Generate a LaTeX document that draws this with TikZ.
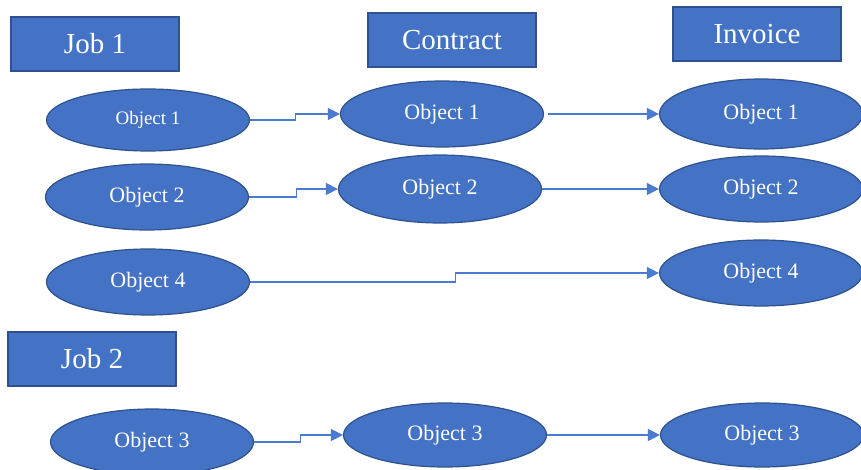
\documentclass[tikz,border=0pt]{standalone}
\usepackage{fontspec}
\setmainfont{Liberation Serif}
\usetikzlibrary{shapes.geometric,arrows.meta}
\definecolor{fillblue}{HTML}{4472C4}
\definecolor{edgeblue}{HTML}{2F528F}
\definecolor{lineblue}{HTML}{4A7BD0}
\tikzset{
  hdr/.style={rectangle,fill=fillblue,draw=edgeblue,line width=1.2pt,minimum width=168pt,minimum height=54pt,inner sep=0pt,text=white,font=\fontsize{29}{32}\selectfont},
  obj/.style={ellipse,fill=fillblue,draw=edgeblue,line width=1.2pt,minimum width=203pt,minimum height=66pt,inner sep=0pt,text=white,font=\fontsize{22}{25}\selectfont},
  conn/.style={draw=lineblue,line width=1.1pt,-{Triangle[length=12pt,width=12pt]}}
}
\begin{document}
\begin{tikzpicture}[x=1pt,y=-1pt]
\useasboundingbox[fill=white] (0,0) rectangle (861,470);
% headers
\node[hdr] (job1) at (95,44) {Job 1};
\node[hdr] (contract) at (452,40) {Contract};
\node[hdr] (invoice) at (757,34) {Invoice};
\node[hdr] (job2) at (92,359) {Job 2};
% row 1
\node[obj,minimum height=62pt] (j1o1) at (148,120) {\fontsize{19}{22}\selectfont Object 1};
\node[obj] (c1) at (442,114) {Object 1};
\node[obj,minimum height=70pt] (i1) at (761,114) {Object 1};
% row 2
\node[obj] (j1o2) at (147,197) {Object 2};
\node[obj,minimum height=68pt] (c2) at (440,189) {Object 2};
\node[obj] (i2) at (761,189) {Object 2};
% row 3
\node[obj] (j1o4) at (148,282) {Object 4};
\node[obj] (i4) at (761,273) {Object 4};
% row 4
\node[obj] (j2o3) at (152,442) {Object 3};
\node[obj,minimum height=64pt] (c3) at (445,435) {Object 3};
\node[obj,minimum height=64pt] (i3) at (762,435) {Object 3};
% connectors
\draw[conn] (j1o1.east) -- ++(45,0) |- (c1.west);
\draw[conn,shorten <=4pt] (c1.east) -- (i1.west);
\draw[conn] (j1o2.east) -- ++(47,0) |- (c2.west);
\draw[conn] (c2.east) -- (i2.west);
\draw[conn] (j1o4.east) -- ++(205,0) |- (i4.west);
\draw[conn] (j2o3.east) -- ++(46,0) |- (c3.west);
\draw[conn] (c3.east) -- (i3.west);
\end{tikzpicture}
\end{document}
